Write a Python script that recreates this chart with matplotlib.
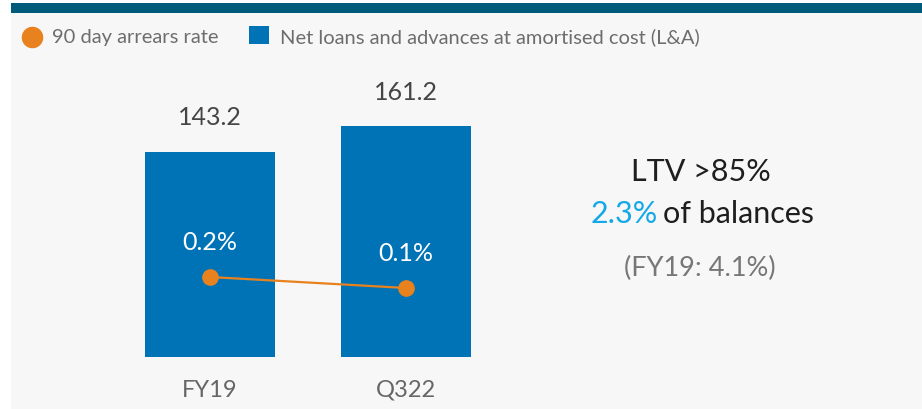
import matplotlib
matplotlib.use("Agg")
import matplotlib.pyplot as plt
from matplotlib.patches import Rectangle
from matplotlib.lines import Line2D

categories = ["FY19", "Q322"]
loans = [143.2, 161.2]
arrears = [0.2, 0.1]
arrears_labels = ["0.2%", "0.1%"]
loan_labels = ["143.2", "161.2"]
legend_labels = ["90 day arrears rate", "Net loans and advances at amortised cost (L&A)"]

BAR = "#0073b6"
ORANGE = "#e8821e"
TEAL = "#005a7a"
BG = "#f7f7f7"

plt.rcParams['font.family'] = ['Lato', 'DejaVu Sans']

W, H = 922, 409
fig = plt.figure(figsize=(W / 100, H / 100), dpi=100)
fig.patch.set_facecolor("white")

def fx(px):
    return px / W

def fy(py):
    return 1 - py / H

# background panel and top band
fig.add_artist(Rectangle((fx(11), 0), fx(W - 11), fy(13), transform=fig.transFigure,
                         facecolor=BG, edgecolor="none", zorder=0))
fig.add_artist(Rectangle((fx(11), fy(13)), fx(W - 11), 10 / H, transform=fig.transFigure,
                         facecolor=TEAL, edgecolor="none", zorder=0))

# main axes: left 80px, right 540px, bottom 357px, top 60px
ax_l, ax_r, ax_b, ax_t = 80, 540, 357, 60
ax = fig.add_axes([fx(ax_l), fy(ax_b), fx(ax_r - ax_l), (ax_b - ax_t) / H])
ax.set_facecolor("none")
ppu_x = 196.0
x0 = 210.0
ax.set_xlim(-(x0 - ax_l) / ppu_x, (ax_r - x0) / ppu_x)
ppu_y = 1.432
ax.set_ylim(0, (ax_b - ax_t) / ppu_y)

xs = list(range(len(categories)))
ax.bar(xs, loans, width=130 / ppu_x, color=BAR, zorder=2)
for x, v, lab in zip(xs, loans, loan_labels):
    ax.annotate(lab, (x, v), xytext=(0, 24.5), textcoords="offset points",
                ha="center", va="center", fontsize=18, color="#454545")

ax.set_xticks(xs)
ax.set_xticklabels(categories, fontsize=17, color="#666666")
ax.tick_params(axis="x", length=0, pad=16.5)
ax.set_yticks([])
for s in ax.spines.values():
    s.set_visible(False)

ax2 = ax.twinx()
ax2.set_ylim((299 - ax_b) / 110.0, (299 - ax_t) / 110.0)
ax2.plot(xs, arrears, color=ORANGE, lw=1.6, marker="o", markersize=11, zorder=3)
for x, v, lab in zip(xs, arrears, arrears_labels):
    ax2.annotate(lab, (x, v), xytext=(0, 24.5), textcoords="offset points",
                 ha="center", va="center", fontsize=18, color="white")
ax2.set_yticks([])
for s in ax2.spines.values():
    s.set_visible(False)

# legend (manual)
fig.add_artist(Line2D([fx(32)], [fy(37)], marker="o", markersize=14.5, color=ORANGE,
                      linestyle="none", transform=fig.transFigure))
fig.text(fx(52), fy(37), legend_labels[0], fontsize=14.5, color="#6d6d6d", ha="left", va="center")
fig.add_artist(Rectangle((fx(249), fy(44)), fx(20), 18 / H, transform=fig.transFigure,
                         facecolor=BAR, edgecolor="none"))
fig.text(fx(280), fy(37), legend_labels[1], fontsize=14.5, color="#6d6d6d", ha="left", va="center")

# right hand commentary
fig.text(fx(701), fy(172), "LTV >85%", fontsize=22, color="#1e1e1e", ha="center", va="center")
fig.text(fx(658), fy(214), "2.3%", fontsize=22, color="#12a9e6", ha="right", va="center")
fig.text(fx(663), fy(214), "of balances", fontsize=22, color="#1e1e1e", ha="left", va="center")
fig.text(fx(700), fy(268), "(FY19: 4.1%)", fontsize=19.5, color="#777777", ha="center", va="center")

fig.savefig("out.png", dpi=100, facecolor=fig.get_facecolor())
